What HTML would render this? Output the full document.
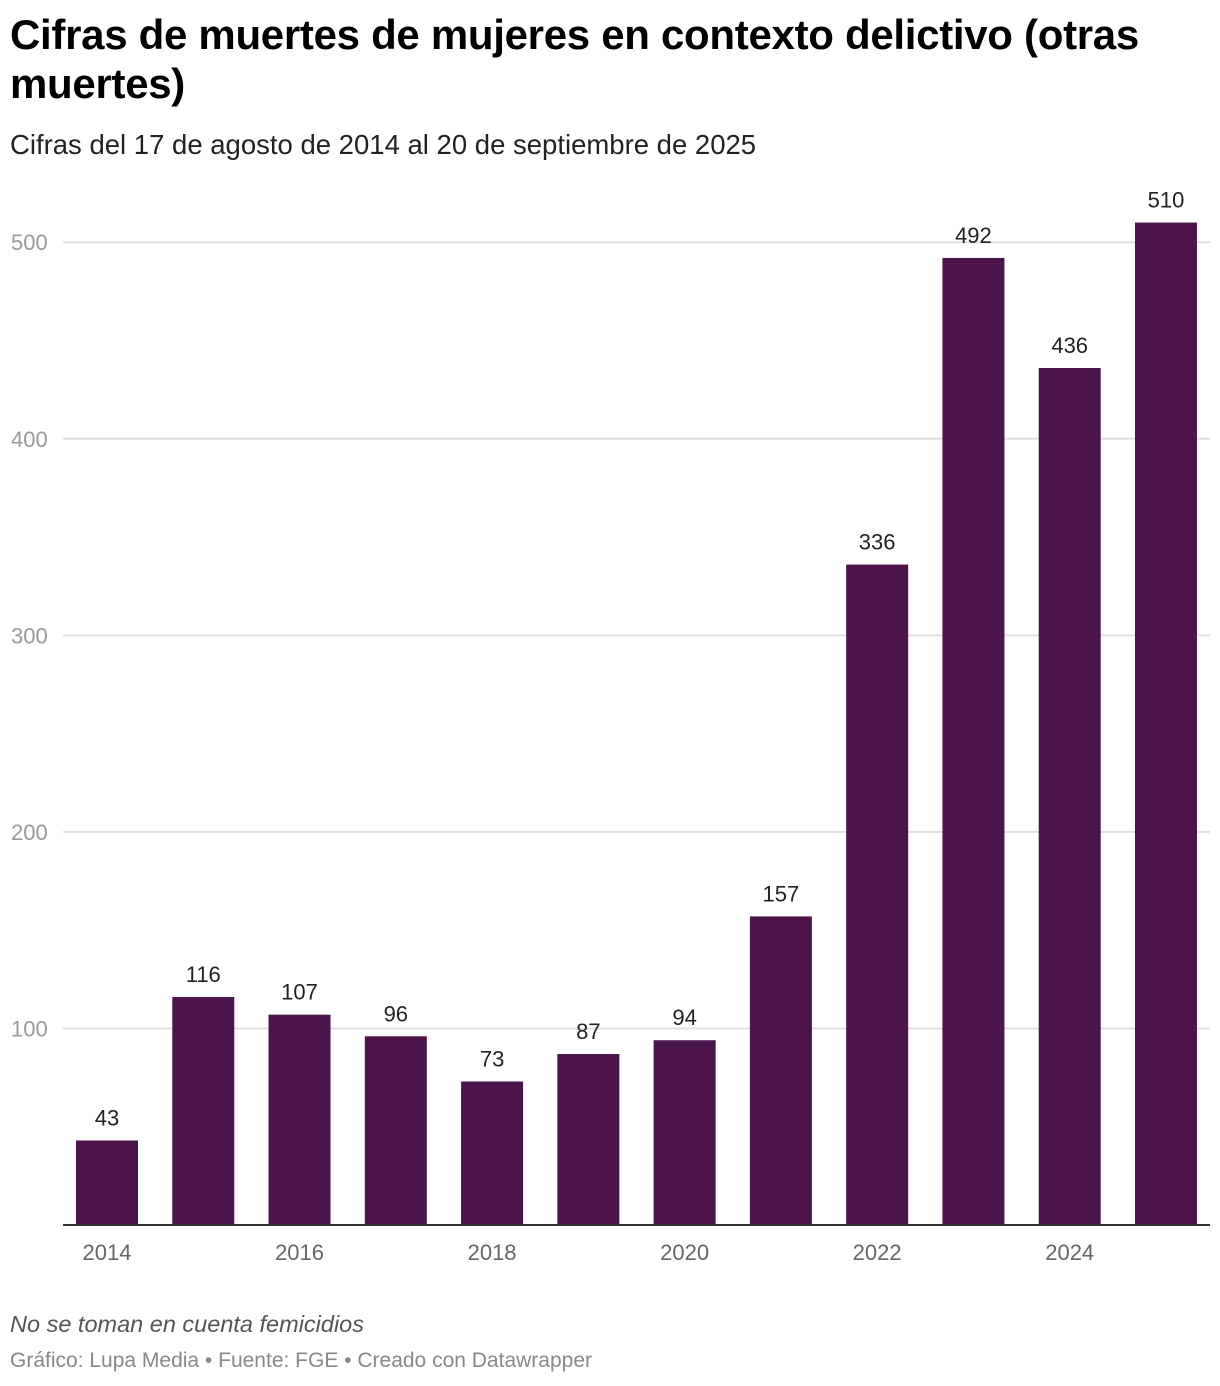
<!DOCTYPE html>
<html><head><meta charset="utf-8"><style>
body{margin:0;width:1220px;height:1386px;background:#fff;font-family:"Liberation Sans",sans-serif;position:relative;overflow:hidden}
.t{position:absolute;left:10px;top:10px;font-size:42px;font-weight:bold;line-height:49px;color:#000;width:1205px;letter-spacing:-0.3px}
.s{position:absolute;left:10px;top:129px;font-size:27.5px;color:#222}
.n{position:absolute;left:10px;top:1311px;font-size:23.5px;font-style:italic;color:#555}
.f{position:absolute;left:10px;top:1349px;font-size:21px;color:#888}
svg{position:absolute;left:0;top:0}
</style></head><body>
<div class="t">Cifras de muertes de mujeres en contexto delictivo (otras muertes)</div>
<div class="s">Cifras del 17 de agosto de 2014 al 20 de septiembre de 2025</div>
<div class="n">No se toman en cuenta femicidios</div>
<div class="f">Gráfico: Lupa Media • Fuente: FGE • Creado con Datawrapper</div>
<svg id="c" width="1220" height="1386"></svg>
<script>
const years=[2014,2015,2016,2017,2018,2019,2020,2021,2022,2023,2024,2025];
const values=[43,116,107,96,73,87,94,157,336,492,436,510];
const yTicks=[100,200,300,400,500];
const xTickLabels=[2014,2016,2018,2020,2022,2024];
const NS="http://www.w3.org/2000/svg",svg=document.getElementById('c');
const y=v=>1225-v*1.9656;
const x0=76,step=96.27,bw=62;
const x=i=>x0+i*step;
function mk(t,a,txt){const e=document.createElementNS(NS,t);for(const k in a)e.setAttribute(k,a[k]);if(txt!==undefined)e.textContent=txt;svg.appendChild(e);return e;}
yTicks.forEach(v=>{
 const l=mk('line',{x1:63,x2:1210,y1:y(v),y2:y(v),stroke:'#e0e0e0','stroke-width':2});
 
 
 const t=mk('text',{x:11,y:y(v)+8,'font-size':22,fill:'#999','font-family':'Liberation Sans'},v);
 
 
});
values.forEach((v,i)=>{
 const r=mk('rect',{x:x(i),y:y(v),width:bw,height:1225-y(v),fill:'#4b154b'});
 
 
 const t=mk('text',{x:x(i)+bw/2,y:y(v)-15,'font-size':22,fill:'#222','text-anchor':'middle','font-family':'Liberation Sans'},v);
 
 
});
const b=mk('line',{x1:63,x2:1210,y1:1225,y2:1225,stroke:'#333','stroke-width':2});


xTickLabels.forEach(yr=>{
 const i=years.indexOf(yr);
 const t=mk('text',{x:x(i)+bw/2,y:1260,'font-size':22,fill:'#666','text-anchor':'middle','font-family':'Liberation Sans'},yr);
 
 
});
</script>
</body></html>
